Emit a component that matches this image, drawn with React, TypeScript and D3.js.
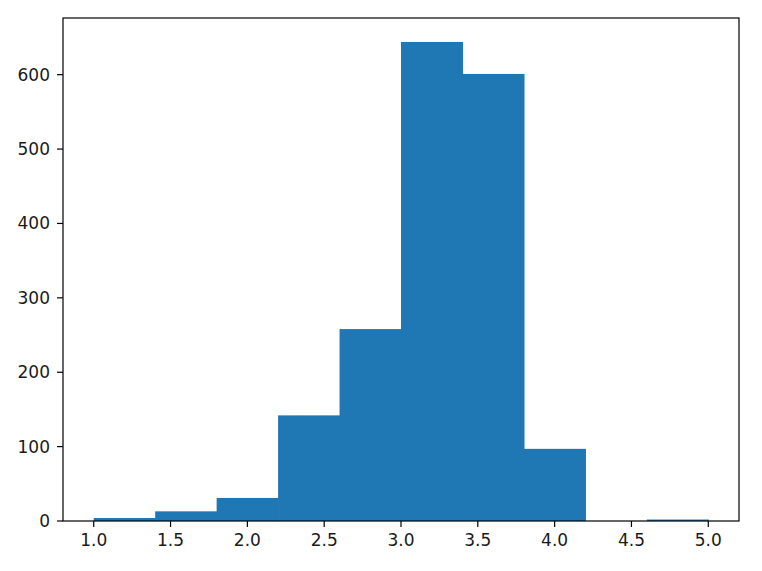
import React from "react";
import * as d3 from "d3";

const binEdges = [1.0, 1.4, 1.8, 2.2, 2.6, 3.0, 3.4, 3.8, 4.2, 4.6, 5.0];
const counts = [4, 13, 31, 142, 258, 644, 601, 97, 0, 2];
const xTicks = [1.0, 1.5, 2.0, 2.5, 3.0, 3.5, 4.0, 4.5, 5.0];
const yTicks = [0, 100, 200, 300, 400, 500, 600];

const W = 762;
const H = 571;
const left = 63;
const right = 739;
const top = 18;
const bottom = 521;

export default function App() {
  const x = d3.scaleLinear().domain([0.8, 5.2]).range([left, right]);
  const yMax = (d3.max(counts) as number) * 1.05;
  const y = d3.scaleLinear().domain([0, yMax]).range([bottom, top]);
  const fmtX = d3.format(".1f");
  const font = "'DejaVu Sans', sans-serif";
  const fs = 17;
  const tick = 6;
  return (
    <svg
      width={W}
      height={H}
      style={{ position: "absolute", left: 0, top: 0, background: "#fff" }}
    >
      <rect x={0} y={0} width={W} height={H} fill="#fff" />
      {counts.map((c, i) => (
        <rect
          key={i}
          x={x(binEdges[i])}
          y={y(c)}
          width={x(binEdges[i + 1]) - x(binEdges[i]) + 0.6}
          height={bottom - y(c)}
          fill="#1f77b4"
        />
      ))}
      <rect
        x={left}
        y={top}
        width={right - left}
        height={bottom - top}
        fill="none"
        stroke="#000"
        strokeWidth={1.2}
      />
      {xTicks.map((t) => (
        <g key={"x" + t}>
          <line x1={x(t)} x2={x(t)} y1={bottom} y2={bottom + tick} stroke="#000" strokeWidth={1.2} />
          <text
            x={x(t)}
            y={bottom + tick + 6}
            dy="0.76em"
            textAnchor="middle"
            fontFamily={font}
            fontSize={fs}
            fill="#1a1a1a"
          >
            {fmtX(t)}
          </text>
        </g>
      ))}
      {yTicks.map((t) => (
        <g key={"y" + t}>
          <line x1={left - tick} x2={left} y1={y(t)} y2={y(t)} stroke="#000" strokeWidth={1.2} />
          <text
            x={left - tick - 7}
            y={y(t)}
            dy="0.35em"
            textAnchor="end"
            fontFamily={font}
            fontSize={fs}
            fill="#1a1a1a"
          >
            {t}
          </text>
        </g>
      ))}
    </svg>
  );
}
